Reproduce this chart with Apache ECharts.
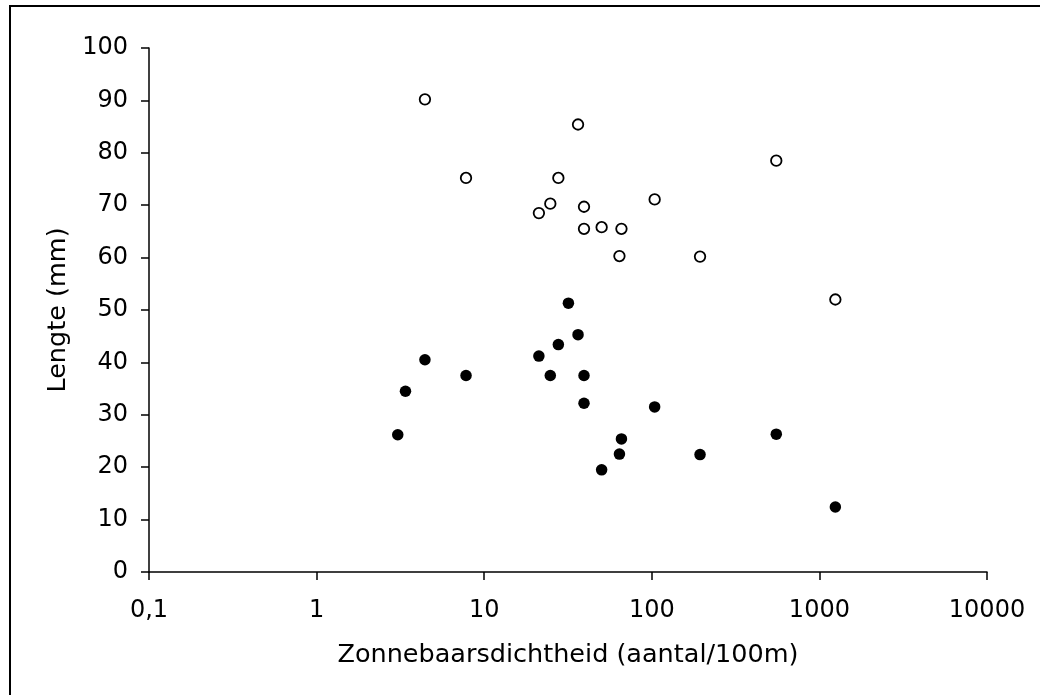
<!DOCTYPE html>
<html>
<head>
<meta charset="utf-8">
<script src="https://cdn.jsdelivr.net/npm/echarts@6/dist/echarts.min.js"></script>
<style>
  html, body { margin: 0; padding: 0; background: #fff; }
  #chart { width: 1040px; height: 695px; }
</style>
</head>
<body>
<div id="chart"></div>
<script>
// open circles (upper group)
var openX = [4.43, 7.79, 21.2, 24.8, 27.7, 36.3, 39.4, 39.4, 50.2, 64.1, 65.9, 104, 194, 553, 1245]
var openY = [90.2, 75.2, 68.5, 70.3, 75.2, 85.4, 69.7, 65.5, 65.8, 60.3, 65.5, 71.1, 60.2, 78.5, 52.0]
// filled circles (lower group)
var filledX = [3.05, 3.39, 4.43, 7.79, 21.2, 24.8, 27.7, 31.8, 36.3, 39.4, 39.4, 50.2, 64.1, 65.9, 104, 194, 553, 1245]
var filledY = [26.2, 34.5, 40.5, 37.5, 41.2, 37.5, 43.4, 51.3, 45.3, 37.5, 32.2, 19.5, 22.5, 25.4, 31.5, 22.4, 26.3, 12.4]

var xName = 'Zonnebaarsdichtheid (aantal/100m)'
var yName = 'Lengte (mm)'

function pairs(xs, ys) {
  var out = []
  for (var i = 0; i < xs.length; i++) {
    out.push([xs[i], ys[i]])
  }
  return out
}

var font = 'DejaVu Sans, Verdana, sans-serif'
var size = 24 // tekstgrootte labels
var titleSize = 25.5 // tekstgrootte astitels

var chart = echarts.init(document.getElementById('chart'))
var option = {
  animation: false,
  backgroundColor: '#fff',
  textStyle: { fontFamily: font },
  graphic: [
    {
      type: 'rect',
      shape: { x: 10, y: 6, width: 1200, height: 900 },
      style: { fill: 'none', stroke: '#000', lineWidth: 2 }
    }
  ],
  grid: { left: 149, right: 53, top: 48, bottom: 123 },
  xAxis: {
    type: 'log',
    logBase: 10,
    min: 0.1,
    max: 10000,
    splitNumber: 5,
    name: xName,
    nameLocation: 'middle',
    nameGap: 70,
    nameTextStyle: { color: '#000', fontSize: titleSize, fontFamily: font },
    axisLine: { lineStyle: { color: '#000', width: 1.5 } },
    axisTick: { inside: false, length: 8, lineStyle: { color: '#000', width: 1.5 } },
    minorTick: { show: false },
    splitLine: { show: false },
    axisLabel: {
      color: '#000',
      fontSize: size,
      fontFamily: font,
      margin: 27,
      formatter: function (v) {
        return String(v).replace('.', ',')
      }
    }
  },
  yAxis: {
    type: 'value',
    min: 0,
    max: 100,
    interval: 10,
    name: yName,
    nameLocation: 'middle',
    nameGap: 77,
    nameTextStyle: { color: '#000', fontSize: titleSize, fontFamily: font },
    axisLine: { show: true, lineStyle: { color: '#000', width: 1.5 } },
    axisTick: { show: true, length: 8, lineStyle: { color: '#000', width: 1.5 } },
    splitLine: { show: false },
    axisLabel: { color: '#000', fontSize: size, fontFamily: font, margin: 21 }
  },
  series: [
    {
      name: 'open',
      type: 'scatter',
      symbol: 'circle',
      symbolSize: 10.5,
      itemStyle: { color: '#fff', borderColor: '#000', borderWidth: 1.8, opacity: 1 },
      data: pairs(openX, openY)
    },
    {
      name: 'filled',
      type: 'scatter',
      symbol: 'circle',
      symbolSize: 11.5,
      itemStyle: { color: '#000', opacity: 1 },
      data: pairs(filledX, filledY)
    }
  ]
}
chart.setOption(option)
</script>
</body>
</html>
